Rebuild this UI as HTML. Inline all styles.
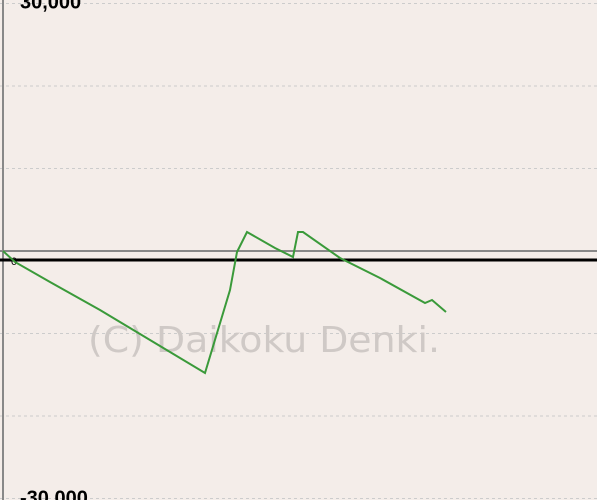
<!DOCTYPE html>
<html><head><meta charset="utf-8"><style>
body{margin:0;background:#f4ede9;}
svg{display:block;font-family:"Liberation Sans",sans-serif;}
</style></head><body>
<svg id="chart" width="597" height="500">
<rect width="597" height="500" fill="#f4ede9"/>
<g id="grid"></g>
<text x="88" y="352" font-size="36" fill="#cfc9c6" textLength="352" lengthAdjust="spacingAndGlyphs" style="font-family:'DejaVu Sans',sans-serif">(C) Daikoku Denki.</text>
<line x1="3" y1="0" x2="3" y2="500" stroke="#888" stroke-width="2"/>
<line x1="0" y1="260" x2="597" y2="260" stroke="#000" stroke-width="3"/>
<text x="11" y="265" font-size="11" fill="#000">0</text>
<g id="series"></g>
<g id="labels"></g>
</svg>
<script>
const games=[0,12,47,97,147,202,227,234,244,272,290,295,300,337,377,422,429,443];
const balance=[0,-1333,-3758,-7152,-10788,-14788,-4727,-121,2303,364,-727,2303,2303,-848,-3273,-6303,-5939,-7394];
const gridValues=[30000,20000,10000,-10000,-20000,-30000];
const tickLabels=["30,000","-30,000"];
const tickValues=[30000,-30000];
const ns="http://www.w3.org/2000/svg";
const y=v=>251-v/10000*82.5;
const x=g=>3+g;
const grid=document.getElementById('grid');
gridValues.forEach(v=>{const l=document.createElementNS(ns,'line');
l.setAttribute('x1',0);l.setAttribute('x2',597);l.setAttribute('y1',y(v));l.setAttribute('y2',y(v));
l.setAttribute('stroke','#ccc');l.setAttribute('stroke-dasharray','3,3');


grid.appendChild(l);});
const z=document.createElementNS(ns,'line');
z.setAttribute('x1',0);z.setAttribute('x2',597);z.setAttribute('y1',y(0));z.setAttribute('y2',y(0));
z.setAttribute('stroke','#888');z.setAttribute('stroke-width','2');


grid.appendChild(z);
const p=document.createElementNS(ns,'polyline');
p.setAttribute('points',games.map((g,i)=>x(g)+','+y(balance[i])).join(' '));
p.setAttribute('fill','none');p.setAttribute('stroke','#3a9a3a');p.setAttribute('stroke-width','2');


document.getElementById('series').appendChild(p);
const lab=document.getElementById('labels');
tickValues.forEach((v,i)=>{const t=document.createElementNS(ns,'text');
t.setAttribute('x',20);t.setAttribute('y',y(v)+(v>0?5:6));t.setAttribute('font-size','20');t.setAttribute('font-weight','bold');
t.textContent=tickLabels[i];


lab.appendChild(t);});
</script>
</body></html>
